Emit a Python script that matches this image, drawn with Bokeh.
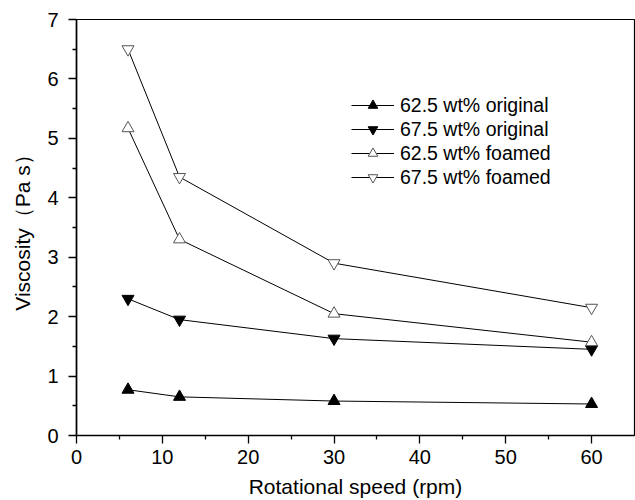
from bokeh.plotting import figure
from bokeh.models import Range1d, FixedTicker, Legend, LegendItem
from bokeh.embed import file_html
from bokeh.resources import INLINE

speed = [6, 12, 30, 60]
orig_625 = [0.77, 0.65, 0.58, 0.53]
orig_675 = [2.30, 1.95, 1.63, 1.45]
foam_625 = [5.17, 3.30, 2.05, 1.57]
foam_675 = [6.50, 4.35, 2.90, 2.15]
labels = ["62.5 wt% original", "67.5 wt% original", "62.5 wt% foamed", "67.5 wt% foamed"]

FONT = "Liberation Sans"

p = figure(width=635, height=500, output_backend="svg", toolbar_location=None,
           x_range=Range1d(0, 65), y_range=Range1d(0, 7),
           min_border_left=76, min_border_right=1, min_border_top=19, min_border_bottom=65)
p.xgrid.visible = False
p.ygrid.visible = False
p.outline_line_color = "black"
p.outline_line_width = 1.2
p.background_fill_color = "white"
p.border_fill_color = "white"

for ax in (p.xaxis[0], p.yaxis[0]):
    ax.axis_line_width = 1.6
    ax.major_tick_line_width = 1.3
    ax.minor_tick_line_width = 1.3
    ax.major_tick_out = 8
    ax.major_tick_in = 0
    ax.minor_tick_out = 4
    ax.minor_tick_in = 0
    ax.major_label_text_font = FONT
    ax.major_label_text_font_size = "20px"
    ax.major_label_text_color = "black"
    ax.axis_label_text_font = FONT
    ax.axis_label_text_font_size = "21px"
    ax.axis_label_text_font_style = "normal"
    ax.axis_label_text_color = "black"

p.xaxis.ticker = FixedTicker(ticks=[0, 10, 20, 30, 40, 50, 60],
                             minor_ticks=[5, 15, 25, 35, 45, 55])
p.yaxis.ticker = FixedTicker(ticks=[0, 1, 2, 3, 4, 5, 6, 7],
                             minor_ticks=[0.5, 1.5, 2.5, 3.5, 4.5, 5.5, 6.5])
p.xaxis.axis_label = "Rotational speed (rpm)"
p.yaxis.axis_label = "Viscosity（Pa s）"
p.xaxis.major_label_standoff = 6
p.yaxis.major_label_standoff = 10
p.xaxis.axis_label_standoff = 8
p.yaxis.axis_label_standoff = 10

series = [
    (orig_625, "triangle", "black"),
    (orig_675, "inverted_triangle", "black"),
    (foam_625, "triangle", "white"),
    (foam_675, "inverted_triangle", "white"),
]
items = []
for (vals, marker, fill), lab in zip(series, labels):
    l = p.line(speed, vals, line_color="black", line_width=1)
    m = p.scatter(speed, vals, marker=marker, size=12, fill_color=fill,
                  line_color="black" if fill == "black" else "#555555", line_width=1)
    items.append(LegendItem(label=lab, renderers=[l, m]))

legend = Legend(items=items, location=(275, 246))
legend.label_text_font = FONT
legend.label_text_font_size = "19.5px"
legend.label_text_color = "black"
legend.border_line_color = None
legend.background_fill_alpha = 0
legend.glyph_width = 43
legend.glyph_height = 24
legend.label_height = 24
legend.spacing = 0
legend.padding = 0
legend.margin = 0
legend.label_standoff = 6
p.add_layout(legend, "center")

open("out.html", "w").write(file_html(p, INLINE))
